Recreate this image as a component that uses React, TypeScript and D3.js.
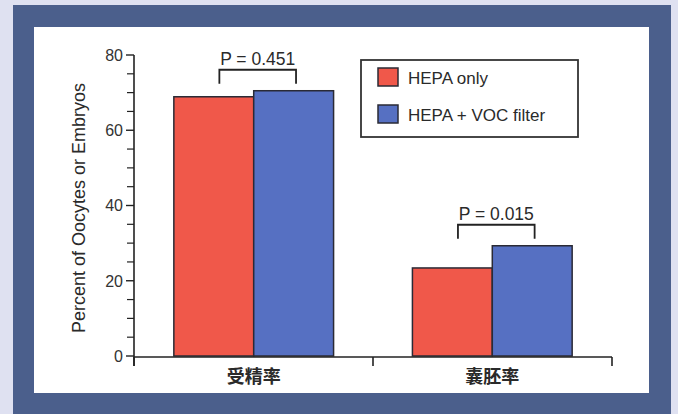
import React from "react";
import * as d3 from "d3";

const categories = ["受精率", "囊胚率"];
const seriesNames = ["HEPA only", "HEPA + VOC filter"];
const hepaOnly = [68.9, 23.4];
const hepaVoc = [70.5, 29.3];
const pLabels = ["P = 0.451", "P = 0.015"];
const majorTicks = [0, 20, 40, 60, 80];
const minorTicks = [5, 10, 15, 25, 30, 35, 45, 50, 55, 65, 70, 75];
const yLabel = "Percent of Oocytes or Embryos";

const colors = ["#f0584a", "#5670c2"];
const ink = "#222";
const font = "Liberation Sans, Arial, sans-serif";

export default function App() {
  const W = 678, H = 414;
  const axisX = 134, axisRight = 612, baseY = 356, topY = 55;
  const y = d3.scaleLinear().domain([0, 80]).range([baseY, topY]);
  const x0 = d3.scaleBand<string>().domain(categories).range([axisX, axisRight]).paddingInner(0.3305).paddingOuter(0.167);
  const x1 = d3.scaleBand<string>().domain(seriesNames).range([0, x0.bandwidth()]).padding(0);
  const values = [hepaOnly, hepaVoc];
  const bw = x1.bandwidth();
  const midTick = (x0(categories[0]) as number) + x0.bandwidth() + (x0.step() - x0.bandwidth()) / 2;

  return (
    <svg width={W} height={H} style={{ position: "absolute", left: 0, top: 0 }} fontFamily={font}>
      <rect x={0} y={0} width={W} height={H} fill="#dfe1f1" />
      <rect x={13} y={5} width={658} height={409} fill="#4b5f8c" />
      <rect x={34} y={27} width={615} height={366} fill="#ffffff" />

      {/* bars */}
      {categories.map((c, ci) =>
        seriesNames.map((s, si) => {
          const v = values[si][ci];
          return (
            <rect key={c + s} x={(x0(c) as number) + (x1(s) as number)} y={y(v)} width={bw} height={baseY - y(v)}
              fill={colors[si]} stroke="#2a2a35" strokeWidth={1.5} />
          );
        })
      )}

      {/* y axis */}
      <line x1={axisX} x2={axisX} y1={topY} y2={baseY + 10} stroke={ink} strokeWidth={1.6} />
      {majorTicks.map((t) => (
        <g key={"M" + t}>
          <line x1={axisX - 8} x2={axisX} y1={y(t)} y2={y(t)} stroke={ink} strokeWidth={1.4} />
          <text x={axisX - 11} y={y(t)} dy="0.36em" textAnchor="end" fontSize={16} fill="#333">{t}</text>
        </g>
      ))}
      {minorTicks.map((t) => (
        <line key={"m" + t} x1={axisX - 7} x2={axisX} y1={y(t)} y2={y(t)} stroke={ink} strokeWidth={1.2} />
      ))}

      {/* x axis */}
      <line x1={axisX} x2={axisRight} y1={baseY + 1} y2={baseY + 1} stroke={ink} strokeWidth={1.6} />
      {[axisX, midTick, axisRight].map((xx, i) => (
        <line key={"xt" + i} x1={xx} x2={xx} y1={baseY + 1} y2={baseY + 10} stroke={ink} strokeWidth={1.6} />
      ))}
      {categories.map((c) => (
        <text key={c} x={(x0(c) as number) + x0.bandwidth() / 2} y={baseY + 27} textAnchor="middle" fontSize={18}
          fontWeight="bold" fontFamily="Noto Sans CJK SC, sans-serif" fill="#2a2a2a">{c}</text>
      ))}

      {/* y label */}
      <text transform={`translate(85,208) rotate(-90)`} textAnchor="middle" fontSize={18}
        fill="#2a2a2a">{yLabel}</text>

      {/* p-value brackets */}
      {categories.map((c, ci) => {
        const gx = x0(c) as number;
        const xl = gx + (x1(seriesNames[0]) as number) + bw * 0.57;
        const xr = gx + (x1(seriesNames[1]) as number) + bw * 0.53;
        const top = y(Math.max(hepaOnly[ci], hepaVoc[ci]));
        const by = top - 21;
        const ly = top - 7;
        return (
          <g key={"p" + c}>
            <path d={`M${xl},${ly}V${by}H${xr}V${ly}`} fill="none" stroke={ink} strokeWidth={1.8} />
            <text x={(xl + xr) / 2} y={by - 5} textAnchor="middle" fontSize={17.5} fill="#2a2a2a">{pLabels[ci]}</text>
          </g>
        );
      })}

      {/* legend */}
      <rect x={361} y={60} width={217} height={77} fill="#fff" stroke="#333" strokeWidth={1.8} />
      {seriesNames.map((s, si) => (
        <g key={"lg" + s}>
          <rect x={378} y={68 + si * 37} width={20} height={18} fill={colors[si]} stroke="#2a2a35" strokeWidth={1.5} />
          <text x={408} y={84 + si * 37} fontSize={17} fill="#2a2a2a">{s}</text>
        </g>
      ))}
    </svg>
  );
}
